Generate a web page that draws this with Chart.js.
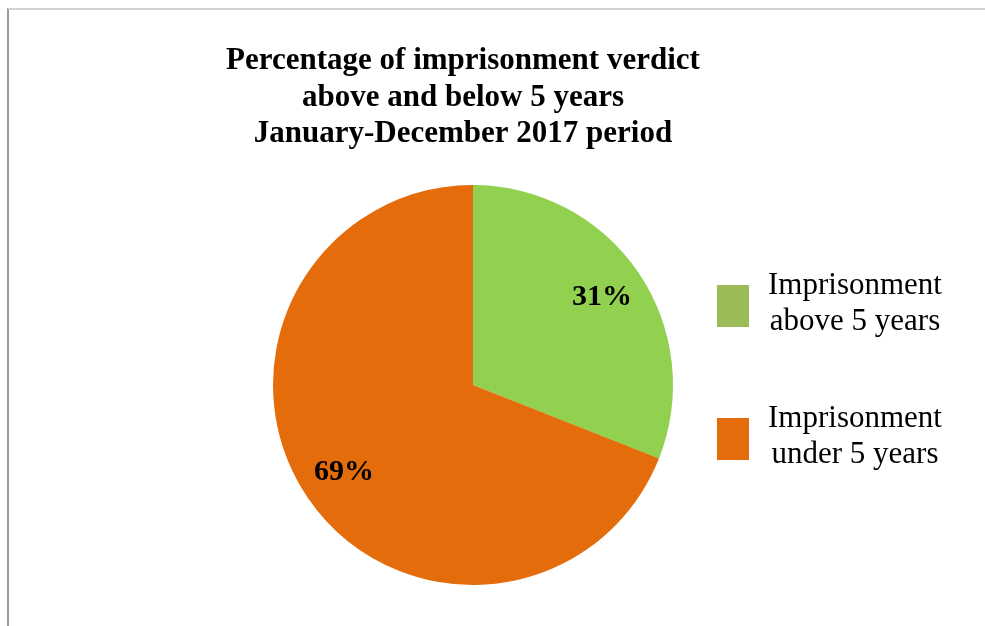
<!DOCTYPE html>
<html>
<head>
<meta charset="utf-8">
<script src="https://cdn.jsdelivr.net/npm/chart.js@4/dist/chart.umd.min.js"></script>
<style>
  body { margin: 0; background: #fff; }
  #wrap { position: relative; width: 985px; height: 626px; }
  #frame { position: absolute; left: 7px; top: 8px; right: 0; bottom: 0;
           border-top: 2px solid #d2d2d2; border-left: 2px solid #9a9a9a; }
  canvas { position: absolute; left: 0; top: 0; }
</style>
</head>
<body>
<div id="wrap">
  <div id="frame"></div>
  <canvas id="bieuDoTron" width="985" height="626"></canvas>
</div>
<script>
const tieuDe = ['Percentage of imprisonment verdict', 'above and below 5 years', 'January-December 2017 period'];
const nhan = [['Imprisonment', 'above 5 years'], ['Imprisonment', 'under 5 years']];
const giaTri = [31, 69];
const mauLat = ['#92d050', '#e46c0a'];
const mauChuGiai = ['#9bbb59', '#e46c0a'];

const serif = '"Liberation Serif", "Times New Roman", serif';

// ve tieu de, nhan phan tram va chu giai
const veThem = {
    id: 'veThem',
    afterDraw(chart) {
        const ctx = chart.ctx;
        ctx.save();
        ctx.fillStyle = '#000';
        ctx.textAlign = 'center';
        ctx.textBaseline = 'alphabetic';

        ctx.font = 'bold 31px ' + serif;
        tieuDe.forEach((dong, i) => ctx.fillText(dong, 463, 69 + i * 36.5));

        // phan tram tren tung lat
        const meta = chart.getDatasetMeta(0);
        const tong = giaTri.reduce((a, b) => a + b, 0);
        ctx.font = 'bold 30px ' + serif;
        ctx.textBaseline = 'middle';
        meta.data.forEach((arc, i) => {
            const p = arc.getProps(['x', 'y', 'startAngle', 'endAngle', 'outerRadius'], true);
            const goc = (p.startAngle + p.endAngle) / 2;
            const r = p.outerRadius * 0.78;
            const phanTram = Math.round(giaTri[i] / tong * 100) + '%';
            ctx.fillText(phanTram, p.x + Math.cos(goc) * r, p.y + Math.sin(goc) * r);
        });

        // chu giai ben phai
        ctx.font = '31px ' + serif;
        ctx.textBaseline = 'alphabetic';
        const hopY = [285, 418];
        nhan.forEach((dong, i) => {
            ctx.fillStyle = mauChuGiai[i];
            ctx.fillRect(717, hopY[i], 32, 42);
            ctx.fillStyle = '#000';
            dong.forEach((t, j) => ctx.fillText(t, 855, hopY[i] + 9 + j * 36));
        });
        ctx.restore();
    }
};

new Chart(document.getElementById('bieuDoTron').getContext('2d'), {
    type: 'pie',
    data: {
        labels: nhan.map(d => d.join(' ')),
        datasets: [{
            data: giaTri,
            backgroundColor: mauLat,
            borderWidth: 0
        }]
    },
    options: {
        responsive: false,
        animation: false,
        layout: { padding: { top: 185, bottom: 41, left: 273, right: 312 } },
        plugins: {
            legend: { display: false },
            title: { display: false },
            tooltip: { enabled: false }
        }
    },
    plugins: [veThem]
});
</script>
</body>
</html>
